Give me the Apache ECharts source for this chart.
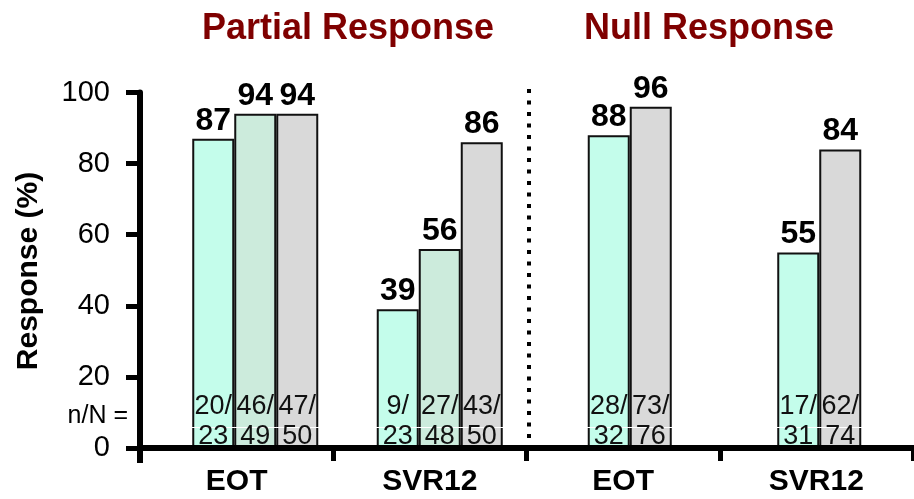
<!DOCTYPE html>
<html>
<head>
<meta charset="utf-8">
<script src="https://cdn.jsdelivr.net/npm/echarts@6/dist/echarts.min.js"></script>
<style>
  html, body { margin: 0; padding: 0; background: #fff; }
  #chart { width: 914px; height: 499px; }
</style>
</head>
<body>
<div id="chart"></div>
<script>
// Category labels along the shared x axis and within each response group
const axisCategories = ['EOT', 'SVR12', 'EOT', 'SVR12'];
const groupCategories = ['EOT', 'SVR12'];

// Partial response group: response rates (%) per arm
const partialArm1 = [87, 39];
const partialArm2 = [94, 56];
const partialArm3 = [94, 86];
// Null response group
const nullArm1 = [88, 55];
const nullArm3 = [96, 84];

// n/N counts printed inside the bars
const partialCounts1 = [[20, 23], [9, 23]];
const partialCounts2 = [[46, 49], [27, 48]];
const partialCounts3 = [[47, 50], [43, 50]];
const nullCounts1 = [[28, 32], [17, 31]];
const nullCounts3 = [[73, 76], [62, 74]];

// Y axis scale
const yMin = 0, yMax = 100, yStep = 20;

const FONT = 'Liberation Sans, Arial, sans-serif';
const COLORS = { arm1: '#C4FDEB', arm2: '#CCEBDC', arm3: '#D9D9D9' };

const plotTop = 92.5, plotHeight = 355.5;
const grids = [
  { left: 140, right: 1, top: plotTop, height: plotHeight },   // visible axes
  { left: 163, width: 369, top: plotTop, height: plotHeight },  // partial bars
  { left: 535, width: 381, top: plotTop, height: plotHeight },  // null bars
  { left: 163, width: 369, top: plotTop, height: plotHeight },  // partial n/N text
  { left: 535, width: 381, top: plotTop, height: plotHeight }   // null n/N text
];

const xAxes = [{
  gridIndex: 0, type: 'category', data: axisCategories, z: 10,
  axisLine: { lineStyle: { color: '#000', width: 6 } },
  axisTick: { show: true, length: 13, interval: 0, lineStyle: { color: '#000', width: 5 } },
  axisLabel: { fontSize: 30, fontWeight: 'bold', color: '#000', margin: 19, fontFamily: FONT, interval: 0 }
}];
const yAxes = [{
  gridIndex: 0, type: 'value', min: yMin, max: yMax, interval: yStep, z: 10,
  axisLine: { show: true, lineStyle: { color: '#000', width: 6 } },
  axisTick: { show: true, length: 14, lineStyle: { color: '#000', width: 5 } },
  axisLabel: { fontSize: 29, color: '#000', margin: 30, fontFamily: FONT },
  splitLine: { show: false }
}];
for (let i = 1; i < grids.length; i++) {
  xAxes.push({ gridIndex: i, type: 'category', data: groupCategories, show: false });
  yAxes.push({ gridIndex: i, type: 'value', min: yMin, max: yMax, show: false, splitLine: { show: false } });
}

function barSeries(name, axis, values, color) {
  return {
    name, type: 'bar', xAxisIndex: axis, yAxisIndex: axis, data: values,
    barWidth: 42, barGap: '0%', z: 2,
    itemStyle: { color, borderColor: '#111', borderWidth: 2 },
    label: {
      show: true, position: 'top', distance: 2,
      fontSize: 32, fontWeight: 'bold', color: '#000', fontFamily: FONT
    }
  };
}

function countSeries(name, axis, values, counts) {
  return {
    name, type: 'bar', xAxisIndex: axis, yAxisIndex: axis, data: values,
    barWidth: 42, barGap: '0%', z: 3, silent: true,
    itemStyle: { color: 'rgba(0,0,0,0)', borderWidth: 0 },
    label: {
      show: true, position: 'insideBottom', distance: 0, offset: [0, 4],
      fontSize: 27, lineHeight: 30, color: '#111', fontFamily: FONT,
      formatter: p => counts[p.dataIndex][0] + '/\n' + counts[p.dataIndex][1]
    }
  };
}

const series = [
  barSeries('Arm 1', 1, partialArm1, COLORS.arm1),
  barSeries('Arm 2', 1, partialArm2, COLORS.arm2),
  barSeries('Arm 3', 1, partialArm3, COLORS.arm3),
  barSeries('Arm 1', 2, nullArm1, COLORS.arm1),
  barSeries('Arm 3', 2, nullArm3, COLORS.arm3),
  countSeries('n/N 1', 3, partialArm1, partialCounts1),
  countSeries('n/N 2', 3, partialArm2, partialCounts2),
  countSeries('n/N 3', 3, partialArm3, partialCounts3),
  countSeries('n/N 1', 4, nullArm1, nullCounts1),
  countSeries('n/N 3', 4, nullArm3, nullCounts3)
];

const titleStyle = { fill: '#7F0000', font: 'bold 36px ' + FONT };

const chart = echarts.init(document.getElementById('chart'), null, { renderer: 'canvas' });
chart.setOption({
  animation: false,
  backgroundColor: '#fff',
  textStyle: { fontFamily: FONT },
  grid: grids,
  xAxis: xAxes,
  yAxis: yAxes,
  series,
  graphic: [
    { type: 'text', x: 348, y: 29, z: 100,
      style: Object.assign({ text: 'Partial Response', align: 'center', verticalAlign: 'middle' }, titleStyle) },
    { type: 'text', x: 709, y: 29, z: 100,
      style: Object.assign({ text: 'Null Response', align: 'center', verticalAlign: 'middle' }, titleStyle) },
    { type: 'text', x: 28.5, y: 271, rotation: Math.PI / 2, z: 100,
      style: { text: 'Response (%)', align: 'center', verticalAlign: 'middle',
               font: 'bold 30px ' + FONT, fill: '#000' } },
    { type: 'text', x: 128, y: 416, z: 100,
      style: { text: 'n/N =', align: 'right', verticalAlign: 'middle',
               font: '25px ' + FONT, fill: '#000' } },
    // thin white rule between the two lines of the n/N text
    { type: 'line', z: 2.5, silent: true, shape: { x1: 146, y1: 427.5, x2: 914, y2: 427.5 },
      style: { stroke: '#fff', lineWidth: 1 } },
    // y axis line continues below the x axis
    { type: 'line', z: 100, shape: { x1: 140, y1: 448, x2: 140, y2: 463 },
      style: { stroke: '#000', lineWidth: 6 } },
    // dotted divider between the two response groups
    { type: 'line', z: 100, shape: { x1: 529, y1: 89, x2: 529, y2: 442 },
      style: { stroke: '#000', lineWidth: 4, lineDash: [4, 7.5] } }
  ]
});
</script>
</body>
</html>
